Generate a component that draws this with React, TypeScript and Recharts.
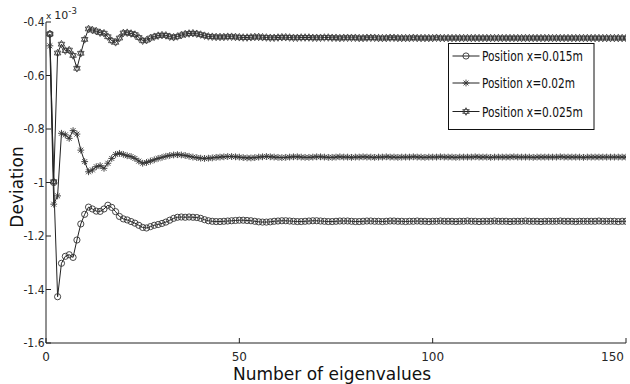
import React from 'react';
import { LineChart, Line, XAxis, YAxis } from 'recharts';

// ---- data (values in units of 1e-3) ----
const xTicks = [0, 50, 100, 150];
const yTicks = [-1.6, -1.4, -1.2, -1, -0.8, -0.6, -0.4];
const yTickLabels = ['-1.6', '-1.4', '-1.2', '-1', '-0.8', '-0.6', '-0.4'];
const seriesNames = ['Position x=0.015m', 'Position x=0.02m', 'Position x=0.025m'];
const xLabel = 'Number of eigenvalues';
const yLabel = 'Deviation';

const dev015 = [
  -0.445, -1.0, -1.427, -1.302, -1.276, -1.27, -1.28, -1.215, -1.155, -1.119,
  -1.092, -1.099, -1.107, -1.108, -1.099, -1.085, -1.093, -1.109, -1.127, -1.136,
  -1.14, -1.146, -1.152, -1.16, -1.168, -1.17, -1.165, -1.16, -1.157, -1.153,
  -1.148, -1.141, -1.134, -1.13, -1.129, -1.13, -1.129, -1.13, -1.131, -1.134,
  -1.139, -1.143, -1.145, -1.146, -1.146,
  -1.145, -1.144, -1.143, -1.142, -1.141, -1.141, -1.142, -1.143, -1.145, -1.147,
  -1.148, -1.148, -1.147, -1.145, -1.144, -1.143, -1.143, -1.144, -1.145, -1.146,
  -1.146, -1.145, -1.144, -1.143, -1.143, -1.144, -1.145, -1.146, -1.146, -1.145,
  -1.144, -1.144, -1.144, -1.145, -1.146, -1.146, -1.145, -1.144, -1.144, -1.145,
  -1.145, -1.146, -1.145, -1.144, -1.144, -1.145, -1.145, -1.146, -1.145, -1.145,
  -1.144, -1.145, -1.145, -1.146, -1.145, -1.145, -1.144, -1.145, -1.145, -1.145,
  -1.146, -1.145, -1.145, -1.144, -1.145, -1.145, -1.146, -1.145, -1.145, -1.145,
  -1.144, -1.145, -1.145, -1.145, -1.146, -1.145, -1.145, -1.145, -1.144, -1.145,
  -1.145, -1.145, -1.146, -1.145, -1.145, -1.145, -1.145, -1.144, -1.145, -1.145,
  -1.145, -1.146, -1.145, -1.145, -1.145, -1.145, -1.145, -1.144, -1.145, -1.145,
  -1.145, -1.145, -1.146, -1.145, -1.145,
];

const dev02 = [
  -0.489, -1.081, -1.05, -0.816, -0.822, -0.835, -0.806, -0.819, -0.879, -0.922,
  -0.96, -0.953, -0.941, -0.937, -0.947, -0.928, -0.91, -0.895, -0.891, -0.895,
  -0.9, -0.903, -0.91, -0.92, -0.928, -0.925, -0.92, -0.915, -0.91, -0.906,
  -0.902, -0.899, -0.897, -0.896, -0.897, -0.899, -0.902, -0.905, -0.907, -0.909,
  -0.91, -0.909, -0.908, -0.906, -0.905,
  -0.904, -0.903, -0.903, -0.904, -0.905, -0.907, -0.908, -0.908, -0.907, -0.905,
  -0.904, -0.903, -0.904, -0.905, -0.906, -0.907, -0.906, -0.905, -0.904, -0.904,
  -0.905, -0.906, -0.906, -0.905, -0.904, -0.904, -0.905, -0.906, -0.906, -0.905,
  -0.904, -0.905, -0.905, -0.906, -0.905, -0.905, -0.904, -0.905, -0.905, -0.906,
  -0.905, -0.905, -0.904, -0.905, -0.905, -0.906, -0.905, -0.905, -0.905, -0.904,
  -0.905, -0.905, -0.906, -0.905, -0.905, -0.905, -0.904, -0.905, -0.905, -0.905,
  -0.906, -0.905, -0.905, -0.905, -0.905, -0.904, -0.905, -0.905, -0.905, -0.906,
  -0.905, -0.905, -0.905, -0.905, -0.905, -0.904, -0.905, -0.905, -0.905, -0.905,
  -0.906, -0.905, -0.905, -0.905, -0.905, -0.905, -0.905, -0.904, -0.905, -0.905,
  -0.905, -0.905, -0.905, -0.906, -0.905, -0.905, -0.905, -0.905, -0.905, -0.905,
  -0.905, -0.905, -0.905, -0.905, -0.905,
];

const dev025 = [
  -0.445, -0.997, -0.516, -0.483, -0.507, -0.505, -0.525, -0.573, -0.517, -0.465,
  -0.426, -0.43, -0.434, -0.44, -0.442, -0.455, -0.47, -0.476, -0.46, -0.441,
  -0.44, -0.443, -0.447, -0.458, -0.47, -0.468, -0.46, -0.455, -0.451, -0.449,
  -0.45, -0.455, -0.457, -0.454, -0.449, -0.445, -0.443, -0.442, -0.444, -0.447,
  -0.451, -0.454, -0.455, -0.456, -0.456,
  -0.456, -0.455, -0.455, -0.456, -0.457, -0.458, -0.458, -0.457, -0.456, -0.456,
  -0.457, -0.458, -0.459, -0.459, -0.458, -0.457, -0.457, -0.458, -0.459, -0.459,
  -0.458, -0.458, -0.458, -0.459, -0.459, -0.459, -0.458, -0.458, -0.459, -0.459,
  -0.46, -0.459, -0.459, -0.459, -0.459, -0.46, -0.46, -0.459, -0.459, -0.459,
  -0.46, -0.46, -0.46, -0.459, -0.459, -0.46, -0.46, -0.46, -0.46, -0.459,
  -0.46, -0.46, -0.46, -0.46, -0.46, -0.459, -0.46, -0.46, -0.46, -0.46,
  -0.46, -0.46, -0.46, -0.46, -0.46, -0.46, -0.46, -0.46, -0.46, -0.46,
  -0.46, -0.46, -0.46, -0.46, -0.46, -0.46, -0.46, -0.46, -0.46, -0.46,
  -0.46, -0.46, -0.46, -0.46, -0.46, -0.46, -0.46, -0.46, -0.46, -0.46,
  -0.46, -0.46, -0.46, -0.46, -0.46, -0.46, -0.46, -0.46, -0.46, -0.46,
  -0.46, -0.46, -0.46, -0.46, -0.46,
];

const data = dev015.map((v, i) => ({ n: i + 1, a: v, b: dev02[i], c: dev025[i] }));

// ---- styles ----
const W = 630;
const H = 384;
const INK = '#222';
const MARK = '#333';
const FONT = "'DejaVu Sans', sans-serif";
const CONDENSED = "'DejaVu Sans Condensed', 'DejaVu Sans', sans-serif";
const legendRowY = [12.5, 39.5, 68];
const legendTextWidth = [101, 93, 101];

function circleMark(cx: number, cy: number, key?: any) {
  return <circle key={key} cx={cx} cy={cy} r={3.1} fill="none" stroke={MARK} strokeWidth={0.9} />;
}
function starMark(cx: number, cy: number, key?: any) {
  const s = 3.4;
  const d = s * 0.72;
  return (
    <g key={key} stroke={MARK} strokeWidth={0.9}>
      <line x1={cx} y1={cy - s} x2={cx} y2={cy + s} />
      <line x1={cx - s} y1={cy} x2={cx + s} y2={cy} />
      <line x1={cx - d} y1={cy - d} x2={cx + d} y2={cy + d} />
      <line x1={cx - d} y1={cy + d} x2={cx + d} y2={cy - d} />
    </g>
  );
}
function hexMark(cx: number, cy: number, key?: any) {
  const r = 3.8;
  const a = r * 0.866;
  const up = `${cx},${cy - r} ${cx + a},${cy + r / 2} ${cx - a},${cy + r / 2}`;
  const dn = `${cx},${cy + r} ${cx + a},${cy - r / 2} ${cx - a},${cy - r / 2}`;
  return (
    <g key={key} fill="none" stroke={MARK} strokeWidth={0.8}>
      <polygon points={up} />
      <polygon points={dn} />
    </g>
  );
}

const makeDot = (fn: (x: number, y: number, k?: any) => any, tag: string) => (p: any) => {
  if (p.cx == null || p.cy == null) return <g key={`${tag}${p.index}`} />;
  return fn(p.cx, p.cy, `${tag}${p.index}`);
};

const BottomTick = (p: any) => {
  const { x, y, payload } = p;
  const last = payload.value === xTicks[xTicks.length - 1];
  return (
    <g>
      <line x1={x} x2={x} y1={y} y2={y - 5} stroke={INK} />
      <text
        x={last ? x - 2 : x}
        y={y + 18}
        textAnchor={last ? 'end' : 'middle'}
        fontFamily={FONT}
        fontSize={12}
        fill="#262626"
      >
        {payload.value}
      </text>
    </g>
  );
};

const LeftTick = (p: any) => {
  const { x, y, payload } = p;
  const idx = yTicks.indexOf(payload.value);
  return (
    <g>
      <line x1={x} x2={x + 5} y1={y} y2={y} stroke={INK} />
      <text
        x={x - 1.5}
        y={y}
        dy="0.36em"
        textAnchor="end"
        fontFamily={CONDENSED}
        fontStretch="condensed"
        fontSize={12}
        fill="#262626"
      >
        {idx >= 0 ? yTickLabels[idx] : payload.value}
      </text>
    </g>
  );
};

const TopTick = (p: any) => {
  const { x, y } = p;
  return <line x1={x} x2={x} y1={y} y2={y + 5} stroke="#555" />;
};

const RightTick = (p: any) => {
  const { x, y } = p;
  return <line x1={x} x2={x - 5} y1={y} y2={y} stroke="#555" />;
};

const markers = [circleMark, starMark, hexMark];

export default function App() {
  return (
    <div style={{ position: 'absolute', left: 0, top: 0, width: W, height: H, background: '#fff' }}>
      <LineChart
        width={W}
        height={H}
        data={data}
        margin={{ top: 22, right: 4, bottom: 0, left: 0 }}
      >
        <XAxis
          dataKey="n"
          type="number"
          domain={[0, 150]}
          ticks={xTicks}
          allowDataOverflow
          height={41}
          axisLine={{ stroke: INK }}
          tickLine={false}
          tickSize={0}
          tickMargin={0}
          tick={BottomTick}
          interval={0}
        />
        <XAxis
          xAxisId="top"
          orientation="top"
          dataKey="n"
          type="number"
          domain={[0, 150]}
          ticks={xTicks}
          height={0}
          axisLine={{ stroke: '#777' }}
          tickLine={false}
          tickSize={0}
          tickMargin={0}
          tick={TopTick}
          interval={0}
        />
        <YAxis
          type="number"
          domain={[-1.6, -0.4]}
          ticks={yTicks}
          allowDataOverflow
          width={46}
          axisLine={{ stroke: INK }}
          tickLine={false}
          tickSize={0}
          tickMargin={0}
          tick={LeftTick}
          interval={0}
        />
        <YAxis
          yAxisId="right"
          orientation="right"
          type="number"
          domain={[-1.6, -0.4]}
          ticks={yTicks}
          width={0}
          axisLine={{ stroke: '#666' }}
          tickLine={false}
          tickSize={0}
          tickMargin={0}
          tick={RightTick}
          interval={0}
        />
        <Line
          dataKey="a"
          name={seriesNames[0]}
          stroke={INK}
          strokeWidth={1}
          dot={makeDot(circleMark, 'a')}
          isAnimationActive={false}
        />
        <Line
          dataKey="b"
          name={seriesNames[1]}
          stroke={INK}
          strokeWidth={1}
          dot={makeDot(starMark, 'b')}
          isAnimationActive={false}
        />
        <Line
          dataKey="c"
          name={seriesNames[2]}
          stroke={INK}
          strokeWidth={1}
          dot={makeDot(hexMark, 'c')}
          isAnimationActive={false}
        />
      </LineChart>

      <svg
        width={W}
        height={H}
        style={{ position: 'absolute', left: 0, top: 0, pointerEvents: 'none' }}
      >
        {/* exponent */}
        <text x={46} y={19} fontFamily={FONT} fill="#262626">
          <tspan fontSize={9}>x</tspan>
          <tspan dx={3} fontSize={11}>10</tspan>
          <tspan dy={-5} fontSize={8.5}>-3</tspan>
        </text>
        {/* axis labels */}
        <text
          x={332}
          y={380}
          textAnchor="middle"
          fontFamily={FONT}
          fontSize={17}
          fill="#111"
        >
          {xLabel}
        </text>
        <text
          transform="translate(23,187) rotate(-90)"
          textAnchor="middle"
          fontFamily={FONT}
          fontSize={17}
          fill="#111"
        >
          {yLabel}
        </text>
        {/* legend */}
        <g transform="translate(448.5,43.5)">
          <rect x={0} y={0} width={145.5} height={86} fill="#fff" stroke="#111" strokeWidth={1} />
          {seriesNames.map((name, i) => {
            const cy = legendRowY[i];
            return (
              <g key={name}>
                <line x1={4} x2={31} y1={cy} y2={cy} stroke={INK} strokeWidth={1} />
                {markers[i](17.5, cy)}
                <text
                  x={33.5}
                  y={cy + 5}
                  fontFamily={CONDENSED}
                  fontSize={14.5}
                  textLength={legendTextWidth[i]}
                  lengthAdjust="spacingAndGlyphs"
                  fill="#111"
                >
                  {name}
                </text>
              </g>
            );
          })}
        </g>
      </svg>
    </div>
  );
}
